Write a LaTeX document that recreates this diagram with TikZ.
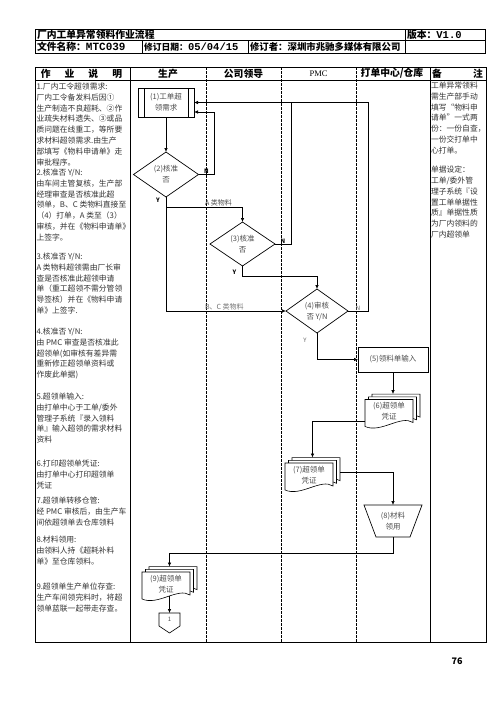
\documentclass[tikz,border=0pt]{standalone}
\usepackage{fontspec}
\setmainfont{Noto Sans CJK SC}
\setmonofont{Liberation Mono}
\newfontfamily\pmcfont{Liberation Serif}
\usetikzlibrary{arrows.meta,calc,positioning,shapes.geometric}

\tikzset{
  pics/stackdoc/.style={code={
    \foreach \k in {2,1,0}
      \draw[fill=white, line width=0.6pt, xshift=3.5*\k, yshift=2.7*\k]
        (0,0) -- (48,0) -- (48,23) .. controls (36,15) and (16,34) .. (0,27) -- cycle;
  }}
}

\begin{document}
\begin{tikzpicture}[x=1pt, y=-1pt,
  every node/.style={inner sep=0pt, outer sep=0pt},
  hdr/.style={font=\fontsize{9.8}{11}\selectfont\bfseries},
  colhead/.style={font=\fontsize{9.8}{11}\selectfont\bfseries},
  desc/.style={anchor=north west, align=left, text=black!80, font=\fontsize{7.8}{10.8}\selectfont},
  grid/.style={line width=0.8pt},
  lane/.style={line width=0.6pt, dash pattern=on 2.5pt off 1.5pt},
  arr/.style={line width=0.7pt, -{Latex[length=4pt,width=3.6pt]}},
  link/.style={line width=0.7pt},
  nodetext/.style={align=center, text=black!70, font=\fontsize{7.5}{11}\selectfont},
  procbox/.style={nodetext, draw, line width=0.7pt, minimum width=56, minimum height=29},
  decision/.style={nodetext, diamond, draw, line width=0.7pt, aspect=1.45},
  opbox/.style={nodetext, draw, line width=0.7pt, minimum width=70, minimum height=25},
  docsheet/.style={nodetext, anchor=north west, minimum width=48, minimum height=24},
  manual/.style={nodetext, minimum width=58, minimum height=32},
  offpage/.style={nodetext, font=\fontsize{6}{7}\selectfont, minimum width=21, minimum height=13},
  yn/.style={font=\fontsize{6}{7}\selectfont\bfseries},
  yngray/.style={font=\fontsize{6}{7}\selectfont, text=black!60},
  lbl/.style={font=\fontsize{7}{8}\selectfont, text=black!70}
]
  \useasboundingbox (0,0) rectangle (496,702);

  % header table
  \draw[grid] (35,29) rectangle (485,53);
  \draw[grid] (35,40.5) -- (485,40.5);
  \draw[grid] (405,29) -- (405,53);
  \draw[grid] (142,40.5) -- (142,53);
  \draw[grid] (248,40.5) -- (248,53);
  \node[hdr, anchor=west] (title) at (37,35) {厂内工单异常领料作业流程};
  \node[hdr, anchor=west] (version) at (407,35) {版本：\ttfamily\fontsize{10.5}{11}\selectfont V1.0};
  \node[hdr, anchor=west] (docname) at (37,47) {文件名称：\ttfamily\fontsize{11}{11}\selectfont MTC039};
  \node[hdr, anchor=west, font=\fontsize{8.8}{11}\selectfont\bfseries] (revdate) at (144,47) {修订日期：\ttfamily\fontsize{10.5}{11}\selectfont 05/04/15};
  \node[hdr, anchor=west, font=\fontsize{9.4}{11}\selectfont\bfseries] (reviser) at (250,47) {修订者：深圳市兆驰多媒体有限公司};

  % main table
  \draw[grid] (35,67) rectangle (486,642);
  \draw[grid] (35,80) -- (486,80);
  \draw[grid] (130,67) -- (130,642);
  \draw[grid] (430,67) -- (430,642);
  \foreach \x in {206,281,356}
    \draw[lane] (\x,67) -- (\x,642);

  \node[colhead] (hdesc) at (81.5,73.5) {作\hspace{14pt}业\hspace{14pt}说\hspace{14pt}明};
  \node[colhead] (hprod) at (168,73.5) {生产};
  \node[colhead] (hlead) at (243.5,73.5) {公司领导};
  \node[font=\fontsize{8.5}{10}\selectfont\pmcfont] (hpmc) at (318.5,73.5) {PMC};
  \node[colhead] (hprint) at (392,73.5) {打单中心/仓库};
  \node[colhead] (hnote) at (457.5,73.5) {备\hspace{31pt}注};

  % description column
  \node[desc] (d1) at (36.5,83) {1.厂内工令超领需求:\\厂内工令备发料后因①\\生产制造不良超耗、②作\\业疏失材料遗失、③或品\\质问题在线重工，等所要\\求材料超领需求.由生产\\部填写《物料申请单》走\\审批程序。};
  \node[desc] (d2) at (36.5,169) {2.核准否 Y/N:\\由车间主管复核，生产部\\经理审查是否核准此超\\领单，B、C 类物料直接至\\（4）打单，A 类至（3）\\审核，并在《物料申请单》\\上签字。};
  \node[desc] (d3) at (36.5,253) {3.核准否 Y/N:\\A 类物料超领需由厂长审\\查是否核准此超领申请\\单（重工超领不需分管领\\导签核）并在《物料申请\\单》上签字.};
  \node[desc] (d4) at (36.5,328) {4.核准否 Y/N:\\由 PMC 审查是否核准此\\超领单(如审核有差异需\\重新修正超领单资料或\\作废此单据)};
  \node[desc] (d5) at (36.5,393) {5.超领单输入:\\由打单中心于工单/委外\\管理子系统『录入领料\\单』输入超领的需求材料\\资料};
  \node[desc] (d6) at (36.5,460) {6.打印超领单凭证:\\由打单中心打印超领单\\凭证};
  \node[desc] (d7) at (36.5,497) {7.超领单转移仓管:\\经 PMC 审核后，由生产车\\间依超领单去仓库领料};
  \node[desc] (d8) at (36.5,536) {8.材料领用:\\由领料人持《超耗补料\\单》至仓库领料。};
  \node[desc] (d9) at (36.5,583) {9.超领单生产单位存查:\\生产车间领完料时，将超\\领单蓝联一起带走存查。};

  % notes column
  \node[desc] (r1) at (431,82) {工单异常领料\\需生产部手动\\填写“物料申\\请单”一式两\\份：一份自查，\\一份交打单中\\心打单。};
  \node[desc] (r2) at (431,166) {单据设定：\\工单/委外管\\理子系统『设\\置工单单据性\\质』单据性质\\为厂内领料的\\厂内超领单};

  % flow
  \node[procbox] (n1) at (166,102.5) {(1)工单超\\领需求};
  \draw[link] ($(n1.north west)+(6,0)$) -- ($(n1.south west)+(6,0)$);
  \draw[link] ($(n1.north east)+(-6,0)$) -- ($(n1.south east)+(-6,0)$);
  \node[decision, minimum width=65, minimum height=45] (n2) at (166,174.5) {(2)核准\\否};
  \node[decision, minimum width=65, minimum height=44] (n3) at (242.5,244) {(3)核准\\否};
  \node[decision, minimum width=62, minimum height=44] (n4) at (317,311) {(4)审核\\否 Y/N};
  \node[opbox] (n5) at (393,359.5) {(5)领料单输入};
  \pic at (365,399.5) {stackdoc};
  \node[docsheet] (n6) at (365,399.5) {(6)超领单\\凭证};
  \pic at (285,463) {stackdoc};
  \node[docsheet] (n7) at (285,463) {(7)超领单\\凭证};
  \node[manual] (n8) at (393,521) {(8)材料\\领用};
  \draw[link] (n8.north west) -- (n8.north east) -- ($(n8.south east)+(-12,0)$) -- ($(n8.south west)+(12,0)$) -- cycle;
  \pic at (142,572) {stackdoc};
  \node[docsheet] (n9) at (142,572) {(9)超领单\\凭证};
  \node[offpage] (c1) at (169.5,619.5) {1};
  \draw[line width=0.6pt] (c1.north west) -- (c1.north east) -- (c1.south east) -- ($(c1.south)+(0,7)$) -- (c1.south west) -- cycle;

  \coordinate (n6top) at ($(n6.north)+(3.5,-5.4)$);
  \coordinate (n7top) at ($(n7.north)+(3.5,-5.4)$);
  \coordinate (n9top) at ($(n9.north)+(3.5,-5.4)$);

  \draw[arr] (n1) -- (n2);
  \draw[arr] (n2.east) -- node[yn, above=1pt] (n2no) {N} ++(16,0) |- ($(n1.east)+(0,9.5)$);
  \draw[arr] (n2.south) -- ++(0,10) -| (n3.north);
  \draw[arr] (n2.south) |- (n4.west);
  \node[yn] (n2yes) at ($(n2.south)+(-8,3)$) {Y};
  \node[lbl, anchor=south west] (la) at (205,206) {A 类物料};
  \node[lbl, anchor=south west, text=black!55] (lbc) at (205,310) {B、C 类物料};

  \draw[link] (n3.east) -- node[yn, above=1pt] (n3no) {N} ++(16,0) coordinate (j3) -- (j3 |- n1.east);
  \draw[arr] (n3.south) -- ++(0,10) -| (n4.north);
  \node[yn] (n3yes) at ($(n3.south)+(-8,6)$) {Y};

  \draw[arr] (n4.east) -- node[yngray, above=1pt] (n4no) {N} ++(20,0) |- (n1.east);
  \draw[arr] (n4.south) |- (n5.west);
  \node[yngray] (n4yes) at ($(n4.south)+(-12,7)$) {Y};

  \draw[arr] (n5.south) -- (n5.south |- n6top);
  \draw[arr] ($(n6.south west)+(0,-2)$) -| (n7top);
  \draw[arr] ($(n7.east)+(7,-3)$) -| (n8.north);
  \draw[arr] (n8.south) -- ++(0,16) -| (n9top);
  \draw[arr] (c1.north |- n9.south) -- (c1.north);

  \node[font=\fontsize{9}{10}\selectfont\bfseries] (page) at (457,661) {76};
\end{tikzpicture}
\end{document}
